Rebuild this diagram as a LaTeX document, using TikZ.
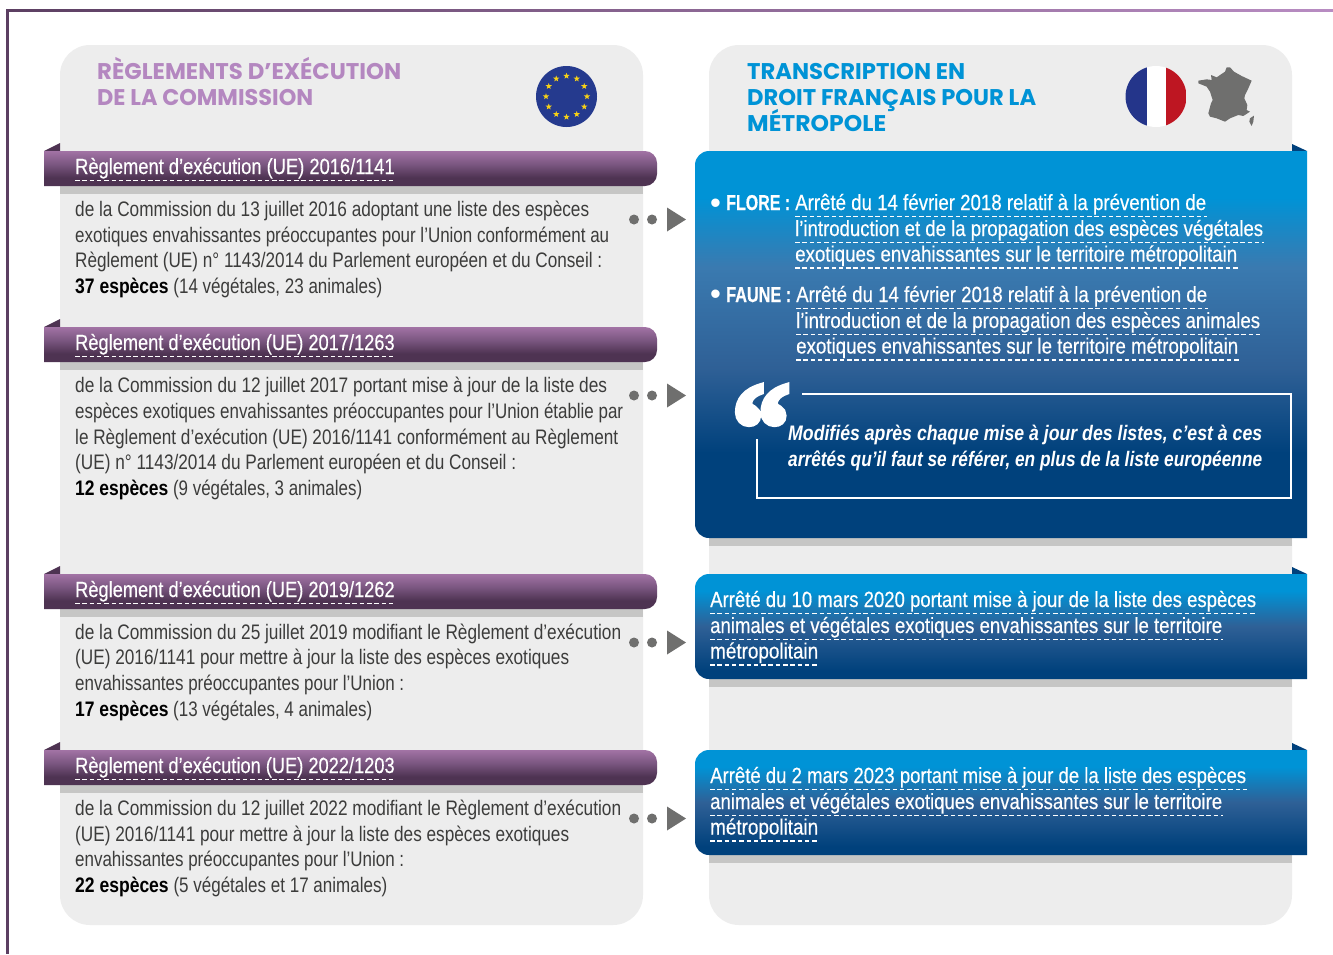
\documentclass[tikz,border=0pt]{standalone}
\usepackage{graphicx}
\usepackage{fontspec}
\setmainfont{Liberation Sans}
\newfontfamily\cond[FakeStretch=0.82,BoldFeatures={FakeStretch=0.845}]{Liberation Sans}
\newfontfamily\condw[FakeStretch=0.845,FakeBold=0.4]{Liberation Sans}
\newfontfamily\condb[FakeStretch=0.8,BoldFeatures={FakeBold=0.5}]{Liberation Sans}
\newfontfamily\headf{Poppins}
\newfontfamily\quotef[BoldFeatures={FakeBold=5}]{Liberation Serif}
\usetikzlibrary{shapes.geometric,calc}
\definecolor{bodyc}{HTML}{3C3C3B}
\definecolor{panelc}{HTML}{EDEDED}
\definecolor{shadowc}{HTML}{C6C6C5}
\definecolor{purpt}{HTML}{A273A5}
\definecolor{purpm}{HTML}{7A5680}
\definecolor{purpb}{HTML}{4E3352}
\definecolor{purpd}{HTML}{5C3F62}
\definecolor{purpl}{HTML}{B88CC2}
\definecolor{headp}{HTML}{B487C0}
\definecolor{headb}{HTML}{0093D6}
\definecolor{navy}{HTML}{00417C}
\definecolor{bluem}{HTML}{3A7AB0}
\definecolor{bluen}{HTML}{2F6096}
\definecolor{dotc}{HTML}{6F6F6E}
\definecolor{eublue}{HTML}{253A8E}
\definecolor{frblue}{HTML}{24358A}
\definecolor{frred}{HTML}{BE1622}
\definecolor{staryel}{HTML}{F7D117}
\definecolor{foldp}{HTML}{4E3352}
\pgfdeclareverticalshading{bluebig}{100bp}{color(0bp)=(navy); color(36bp)=(navy); color(47bp)=(bluen); color(60bp)=(bluem); color(69bp)=(headb); color(100bp)=(headb)}
\pgfdeclareverticalshading{bluesmall}{100bp}{color(0bp)=(navy); color(29bp)=(navy); color(50bp)=(bluen); color(67bp)=(headb); color(100bp)=(headb)}
\pgfdeclareverticalshading{purpband}{100bp}{color(0bp)=(purpb); color(37bp)=(purpb); color(56bp)=(purpm); color(75bp)=(purpt); color(100bp)=(purpt)}
\newcommand{\fitw}[2]{\resizebox{#1pt}{\height}{#2}}
\newcommand{\bodyline}[5]{\node[textline,text=bodyc] (#1) at (#2,#3) {\fitw{#4}{#5}};}
\newcommand{\dashline}[5]{\node[whiteline] (#1) at (#2,#3) {\fitw{#4}{#5}};
  \draw[dashrule] ($(#1.base west)+(0,6.5)$) -- ($(#1.base east)+(1,6.5)$);}
\newcommand{\ribbon}[3]{%
  \fill[foldp] (44,#2) -- (60,#2-8) -- (60,#2) -- cycle;
  \fill[shadowc] (60,#2+35) rectangle (643,#2+43);
  \shade[shading=purpband] (44,#2) [rounded corners=12] -- (657,#2) -- (657,#2+35) [sharp corners] -- (44,#2+35) -- cycle;
  \dashline{#1}{75}{#2+23}{319.5}{#3}}
\newcommand{\bluebox}[3]{%
  \fill[navy] (1292,#1-7) -- (1307,#1) -- (1292,#1) -- cycle;
  \fill[shadowc] (709,#2) rectangle (1292,#2+8);
  \shade[shading=#3] (1307,#1) -- (709,#1) [rounded corners=14] -- (695,#1) -- (695,#2) [sharp corners] -- (1307,#2) -- cycle;}
\newcommand{\pointer}[2]{%
  \node[dotn] (#1a) at (634,#2) {};
  \node[dotn] (#1b) at (652,#2) {};
  \fill[dotc] (667,#2-12) -- (686,#2) -- (667,#2+12) -- cycle;}
\tikzset{
  textline/.style={anchor=base west,inner sep=0pt,font=\cond\fontsize{21}{24}\selectfont},
  whiteline/.style={anchor=base west,inner sep=0pt,text=white,font=\condw\fontsize{22}{24}\selectfont},
  boldline/.style={anchor=base west,inner sep=0pt,text=white,font=\condb\bfseries\fontsize{21.5}{24}\selectfont},
  bulletline/.style={anchor=base west,inner sep=0pt,text=white,font=\fontsize{31}{31}\selectfont},
  quoteline/.style={anchor=base west,inner sep=0pt,text=white,font=\cond\bfseries\itshape\fontsize{21}{24}\selectfont},
  headline/.style={anchor=base west,inner sep=0pt,font=\headf\bfseries\fontsize{22.7}{26}\selectfont},
  dashrule/.style={draw=white,line width=1.3pt,dash pattern=on 4.5pt off 2.8pt},
  dotn/.style={circle,fill=dotc,minimum size=10pt,inner sep=0pt},
  euStar/.style={star,star points=5,star point ratio=2.4,fill=staryel,draw=none,minimum size=6.5pt,inner sep=0pt}
}
\begin{document}
\begin{tikzpicture}[x=1pt,y=-1pt]
\useasboundingbox (0,0) rectangle (1333,954);
\fill[white] (0,0) rectangle (1333,954);
% frame
\shade[left color=purpd,right color=purpl] (6,9) rectangle (1333,11.5);
\fill[purpd] (6,9) rectangle (8.5,954);
% panels
\fill[panelc,rounded corners=30] (60,45) rectangle (643,925);
\fill[panelc,rounded corners=30] (709,45) rectangle (1292,925);
% headers
\node[headline,text=headp] (hl1) at (97,79) {\fitw{304}{RÈGLEMENTS D’EXÉCUTION}};
\node[headline,text=headp] (hl2) at (97,105) {\fitw{216}{DE LA COMMISSION}};
\node[headline,text=headb] (hr1) at (747,79) {\fitw{218}{TRANSCRIPTION EN}};
\node[headline,text=headb] (hr2) at (747,105) {\fitw{289}{DROIT FRANÇAIS POUR LA}};
\node[headline,text=headb] (hr3) at (747,131) {\fitw{139}{MÉTROPOLE}};
% EU flag
\fill[eublue] (566.5,96.5) circle (30.5);
\foreach \a in {0,30,...,330}{\node[euStar] (st\a) at ($(566.5,96.5)+(\a:20.5)$) {};}
% French flag
\begin{scope}
\clip (1156,96.5) circle (30.5);
\fill[white] (1125,66) rectangle (1187,127);
\fill[frblue] (1125,66) rectangle (1147,127);
\fill[frred] (1166,66) rectangle (1187,127);
\end{scope}
% France
\begin{scope}[shift={(1110,50)},x=.3333pt,y=-.3333pt]
\fill[dotc] (265,92) -- (290,88) -- (305,90) -- (303,75) -- (320,82) -- (345,65) -- (350,52) -- (360,52) -- (372,65) -- (395,78) -- (425,92) -- (415,115) -- (405,135) -- (403,145) -- (412,165) -- (410,180) -- (420,185) -- (400,198) -- (385,195) -- (360,205) -- (345,215) -- (320,205) -- (300,200) -- (295,190) -- (303,160) -- (308,150) -- (300,125) -- (290,110) -- (265,100) -- cycle;
\fill[dotc] (432,197) -- (430,215) -- (425,228) -- (418,215) -- (420,205) -- cycle;
\end{scope}
% left
\ribbon{r1}{151}{Règlement d’exécution (UE) 2016/1141}
\bodyline{a1}{75}{216}{514}{de la Commission du 13 juillet 2016 adoptant une liste des espèces}
\bodyline{a2}{75}{242}{534}{exotiques envahissantes préoccupantes pour l’Union conformément au}
\bodyline{a3}{75}{267.5}{527}{Règlement (UE) n° 1143/2014 du Parlement européen et du Conseil :}
\bodyline{a4}{75}{293}{307}{\textcolor{black}{\bfseries 37 espèces} (14 végétales, 23 animales)}
\pointer{p1}{219.5}
\ribbon{r2}{327}{Règlement d’exécution (UE) 2017/1263}
\bodyline{b1}{75}{392}{532}{de la Commission du 12 juillet 2017 portant mise à jour de la liste des}
\bodyline{b2}{75}{418}{548}{espèces exotiques envahissantes préoccupantes pour l’Union établie par}
\bodyline{b3}{75}{444}{543}{le Règlement d’exécution (UE) 2016/1141 conformément au Règlement}
\bodyline{b4}{75}{469}{441}{(UE) n° 1143/2014 du Parlement européen et du Conseil :}
\bodyline{b5}{75}{495}{287}{\textcolor{black}{\bfseries 12 espèces} (9 végétales, 3 animales)}
\pointer{p2}{395.5}
\ribbon{r3}{574}{Règlement d’exécution (UE) 2019/1262}
\bodyline{c1}{75}{639}{546}{de la Commission du 25 juillet 2019 modifiant le Règlement d’exécution}
\bodyline{c2}{75}{664}{494}{(UE) 2016/1141 pour mettre à jour la liste des espèces exotiques}
\bodyline{c3}{75}{690}{329}{envahissantes préoccupantes pour l’Union :}
\bodyline{c4}{75}{716}{297}{\textcolor{black}{\bfseries 17 espèces} (13 végétales, 4 animales)}
\pointer{p3}{642.5}
\ribbon{r4}{750}{Règlement d’exécution (UE) 2022/1203}
\bodyline{d1}{75}{815}{546}{de la Commission du 12 juillet 2022 modifiant le Règlement d’exécution}
\bodyline{d2}{75}{841}{494}{(UE) 2016/1141 pour mettre à jour la liste des espèces exotiques}
\bodyline{d3}{75}{866}{329}{envahissantes préoccupantes pour l’Union :}
\bodyline{d4}{75}{892}{312}{\textcolor{black}{\bfseries 22 espèces} (5 végétales et 17 animales)}
\pointer{p4}{818.5}
% right
\bluebox{151}{538}{bluebig}
\bluebox{574}{679}{bluesmall}
\bluebox{750}{855}{bluesmall}
\node[bulletline] (flb) at (710,213) {•};
\node[boldline] (fl) at (726,210) {\fitw{64}{FLORE :}};
\dashline{f1}{795}{210}{411}{Arrêté du 14 février 2018 relatif à la prévention de}
\dashline{f2}{795}{236}{468}{l’introduction et de la propagation des espèces végétales}
\dashline{f3}{795}{261.5}{442}{exotiques envahissantes sur le territoire métropolitain}
\node[bulletline] (fab) at (710,304.5) {•};
\node[boldline] (fa) at (726,302) {\fitw{65}{FAUNE :}};
\dashline{g1}{796}{302}{411}{Arrêté du 14 février 2018 relatif à la prévention de}
\dashline{g2}{796}{328}{464}{l’introduction et de la propagation des espèces animales}
\dashline{g3}{796}{353.5}{442}{exotiques envahissantes sur le territoire métropolitain}
\node[anchor=north west,inner sep=0pt,text=white,font=\quotef\bfseries\fontsize{125}{125}\selectfont] (q) at (732,386) {\fitw{58}{“}};
\draw[white,line width=2pt] (802,394) -- (1291,394) -- (1291,498) -- (757,498) -- (757,439);
\node[quoteline] (q1) at (788,440) {\fitw{474}{Modifiés après chaque mise à jour des listes, c’est à ces}};
\node[quoteline] (q2) at (788,466) {\fitw{474}{arrêtés qu’il faut se référer, en plus de la liste européenne}};
\dashline{h1}{710}{607}{546}{Arrêté du 10 mars 2020 portant mise à jour de la liste des espèces}
\dashline{h2}{710}{633}{512}{animales et végétales exotiques envahissantes sur le territoire}
\dashline{h3}{710}{658.5}{108}{métropolitain}
\dashline{i1}{710}{783}{536}{Arrêté du 2 mars 2023 portant mise à jour de la liste des espèces}
\dashline{i2}{710}{809}{512}{animales et végétales exotiques envahissantes sur le territoire}
\dashline{i3}{710}{834.5}{108}{métropolitain}
\end{tikzpicture}
\end{document}
